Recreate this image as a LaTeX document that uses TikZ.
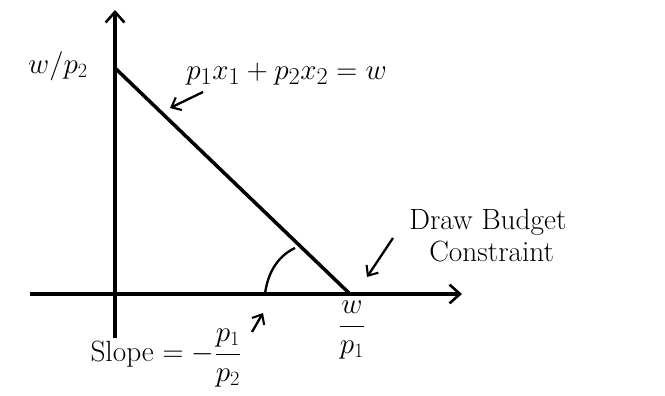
\documentclass[tikz,border=0pt]{standalone}
\usetikzlibrary{arrows.meta}
\begin{document}
\begin{tikzpicture}[
  x=0.03cm, y=0.03cm,
  axis/.style={line width=3pt, -{Straight Barb[length=9pt,width=16pt,line width=2.2pt]}},
  budget/.style={line width=3pt},
  arrow/.style={line width=2pt, -{Straight Barb[length=7pt,width=12pt,line width=1.8pt]}},
  lab/.style={font=\fontsize{25}{29}\selectfont, inner sep=1pt}
]
\useasboundingbox (0,0) rectangle (665,396);

% axes
\coordinate (ybot) at (115,58);
\coordinate (ytop) at (115,386);
\coordinate (xleft) at (30,102);
\coordinate (xright) at (462,102);
\draw[axis] (ybot) -- (ytop);
\draw[axis] (xleft) -- (xright);

% budget line
\coordinate (yint) at (115,328);
\coordinate (xint) at (350,102);
\draw[budget] (yint) -- (xint);

% intercepts
\node[lab] (wptwo) at (58,330) {$w/p_2$};
\node[lab] (wpone) at (352,66) {$\displaystyle\frac{w}{p_1}$};

% equation
\node[lab, font=\fontsize{28}{32}\selectfont, anchor=west] (eq) at (185,322) {$p_1x_1 + p_2x_2 = w$};
\coordinate (eqtail) at (203,304);
\coordinate (eqtip) at (170,288);
\draw[arrow] (eqtail) -- (eqtip);

% note
\node[lab, align=left, anchor=north west] (note) at (408,188) {Draw Budget\\[-2pt]\hspace*{0.6cm}Constraint};
\coordinate (notetail) at (393,158);
\coordinate (notetip) at (367,119);
\draw[arrow] (notetail) -- (notetip);

% slope
\draw[line width=2pt] (265,102) .. controls (268,126) and (280,141) .. (295,148);
\node[lab] (slope) at (166,38) {Slope $= -\displaystyle\frac{p_1}{p_2}$};
\coordinate (slopetail) at (252,64);
\coordinate (slopetip) at (263,83);
\draw[arrow] (slopetail) -- (slopetip);
\end{tikzpicture}
\end{document}
